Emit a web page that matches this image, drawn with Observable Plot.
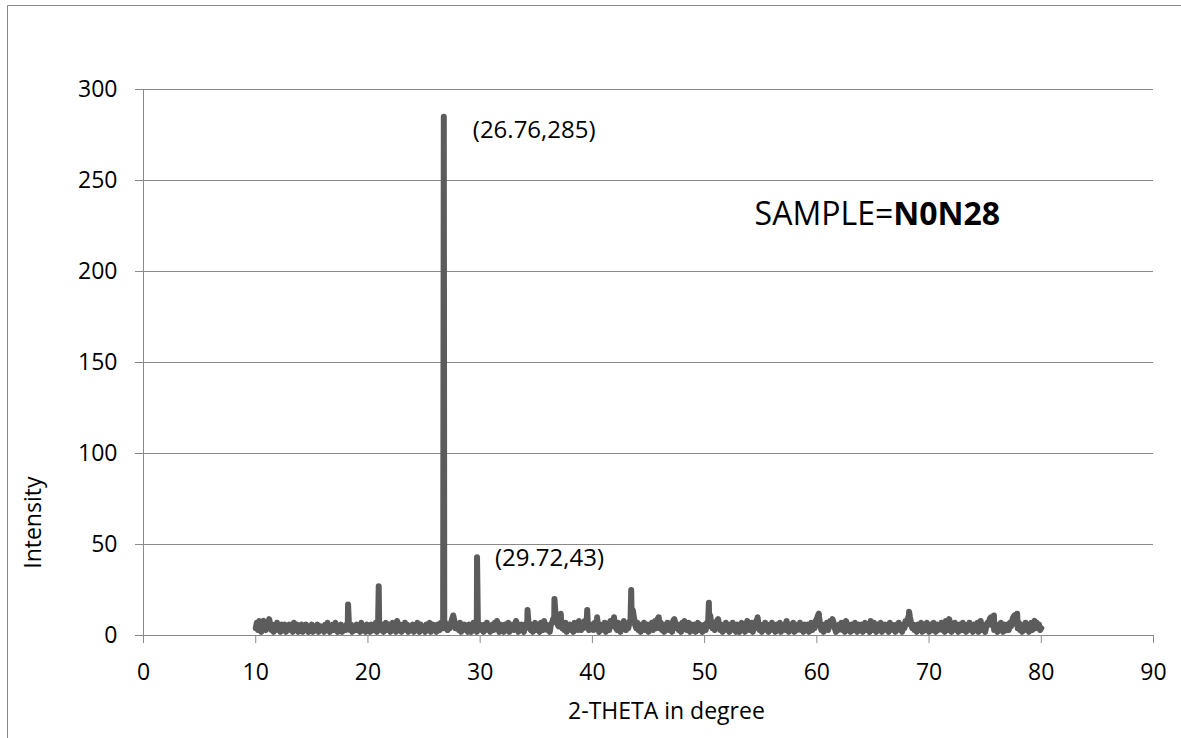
<!DOCTYPE html>
<html>
<head>
<meta charset="utf-8">
<script src="https://cdn.jsdelivr.net/npm/d3@7"></script>
<script src="https://cdn.jsdelivr.net/npm/@observablehq/plot@0.6"></script>
<style>
  body { margin: 0; background: #fff; }
  #chart svg { display: block; }
</style>
</head>
<body>
<div id="chart"></div>
<script>
// ---- Tick labels ----
const xTicks = [0, 10, 20, 30, 40, 50, 60, 70, 80, 90];
const yTicks = [0, 50, 100, 150, 200, 250, 300];

// ---- Baseline intensity, 0.1 degree steps ----
const i10 = [4,7,3,8,5,2,6,8,4,3, 7,5,9,6,3,5,2,6,4,7, 3,5,2,6,4,3,6,2,5,4, 6,3,5,2,7,4,3,6,2,5,
             4,6,2,5,3,6,4,2,5,3, 6,2,5,4,3,6,2,4,5,3, 5,2,6,3,7,4,2,5,3,6, 3,7,4,2,5,3,6,2,4,5,
             3,6,5,7,3,6,2,5,4,3, 6,3,5,2,7,4,3,5,2,6];
const i20 = [3,5,2,6,4,3,5,7,2,5, 6,4,3,6,2,5,7,3,4,6, 2,5,7,3,6,2,8,4,3,6, 2,5,4,7,3,6,2,5,4,3,
             6,2,5,3,7,4,2,6,3,5, 4,2,6,3,5,7,2,4,6,3, 5,2,6,4,3,7,5,6,4,7, 5,3,6,4,7,9,11,8,4,6,
             6,3,7,2,5,4,6,3,5,2, 6,4,2,5,7,3,6,2,5,4];
const i30 = [6,3,5,2,6,4,7,3,5,2, 4,6,3,7,5,8,4,2,6,3, 5,2,6,4,3,7,2,5,4,6, 3,5,8,6,2,5,3,6,4,2,
             6,5,8,7,4,3,6,2,5,7, 3,6,4,2,7,5,3,8,4,6, 3,5,2,6,7,9,10,13,9,6, 5,8,9,4,6,3,7,2,5,4,
             6,3,5,2,7,4,6,3,8,5, 3,6,4,8,7,9,5,3,6,4];
const i40 = [6,3,7,5,9,4,2,6,3,5, 4,7,2,5,6,3,8,5,7,9, 6,4,3,7,5,2,6,4,8,5, 3,6,4,7,9,8,14,10,6,4,
             7,3,5,2,6,4,7,3,5,6, 2,6,4,7,3,5,8,4,9,6, 4,7,3,5,2,6,4,7,3,5, 6,2,8,9,7,4,6,3,5,2,
             7,4,8,6,3,5,7,2,6,4, 3,6,2,5,7,3,6,4,2,5];
const i50 = [6,3,7,5,9,11,6,4,7,3, 5,8,9,6,3,5,2,6,4,7, 3,5,2,6,4,7,3,5,2,6, 4,2,5,7,3,6,2,5,8,6,
             3,5,7,2,6,4,8,9,6,3, 5,2,6,4,7,3,5,2,6,4, 7,3,5,2,6,4,3,7,2,5, 4,6,3,8,5,2,6,4,3,7,
             2,5,3,6,4,7,3,5,2,6, 4,3,6,2,5,7,3,6,4,8];
const i60 = [9,11,10,6,3,5,2,6,4,7, 3,5,8,6,9,7,4,2,5,3, 6,4,7,3,5,2,8,6,3,5, 2,6,4,3,7,5,2,6,4,3,
             6,2,5,7,3,6,4,2,8,5, 3,7,4,2,6,3,5,7,2,5, 4,6,3,5,2,7,4,6,3,5, 2,6,4,7,3,5,2,6,4,8,
             6,9,11,10,7,4,6,3,5,2, 6,3,5,7,2,6,4,3,7,5];
const i70 = [2,6,4,3,7,5,2,6,3,5, 4,7,3,5,2,8,6,3,9,5, 2,6,4,7,3,5,2,6,4,3, 7,3,5,2,6,4,7,3,5,2,
             6,4,3,7,2,5,8,3,6,4, 2,5,7,6,9,10,8,5,3,6, 4,2,6,3,7,5,2,6,4,3, 6,3,7,5,8,10,11,9,6,4,
             7,3,6,2,5,4,7,3,6,2, 5,7,3,6,8,4,7,5,6,3, 4];

// ---- Sharp peaks (2-theta, intensity) ----
const peakX = [18.23, 20.96, 26.76, 29.72, 34.22, 36.62, 37.18, 39.54, 40.42, 41.93, 43.46, 45.91, 50.38, 54.72, 60.18, 68.22, 75.78, 77.85];
const peakY = [17,    27,    285,   43,    14,    20,    12,    14,    10,    10,    25,    10,    18,    10,    12,    13,    11,    12];

// ---- Annotations ----
const labelX = [26.76, 29.72];
const labelY = [285, 43];
const sampleText = "SAMPLE=";
const sampleName = "N0N28";
const xTitle = "2-THETA in degree";
const yTitle = "Intensity";

// Build the series
const decades = [[10, i10], [20, i20], [30, i30], [40, i40], [50, i50], [60, i60], [70, i70]];
const data = [];
for (const [x0, arr] of decades) arr.forEach((v, i) => data.push({x: +(x0 + i * 0.1).toFixed(2), y: v}));
peakX.forEach((x, i) => data.push({x, y: peakY[i]}));
data.sort((a, b) => a.x - b.x);

const ann = labelX.map((x, i) => ({x, y: labelY[i], t: `(${x},${labelY[i]})`}));

const grey = "#898989";
const font = "'Open Sans', sans-serif";

const plot = Plot.plot({
  width: 1181,
  height: 738,
  marginLeft: 143,
  marginRight: 28,
  marginTop: 89,
  marginBottom: 103,
  x: {domain: [0, 90]},
  y: {domain: [0, 300]},
  style: {fontFamily: font, fontSize: "23px", color: "black", background: "white", overflow: "visible"},
  marks: [
    Plot.ruleY(yTicks.slice(1), {stroke: grey, strokeWidth: 1}),
    Plot.ruleX([0], {stroke: grey, strokeWidth: 1}),
    Plot.ruleY([0], {stroke: grey, strokeWidth: 1}),
    Plot.axisY({ticks: yTicks, tickSize: 8, tickPadding: 18, stroke: grey, fill: "black", label: null, fontSize: 23, tickFormat: d => String(d)}),
    Plot.axisX({ticks: xTicks, tickSize: 8, tickPadding: 20, stroke: grey, fill: "black", label: null, fontSize: 23, tickFormat: d => String(d)}),
    Plot.line(data, {x: "x", y: "y", stroke: "#5c5c5c", strokeWidth: 6, strokeLinejoin: "round", strokeLinecap: "round"}),
    Plot.text([ann[0]], {x: "x", y: "y", text: "t", textAnchor: "start", dx: 29, dy: 14, fontSize: 24, fill: "black"}),
    Plot.text([ann[1]], {x: "x", y: "y", text: "t", textAnchor: "start", dx: 18, dy: 1, fontSize: 24, fill: "black"}),
    // axis titles placed in data coordinates (outside the frame)
    Plot.text([yTitle], {text: d => d, x: () => -9.8, y: () => 62, rotate: -90, lineAnchor: "middle", fontSize: 23, fill: "black", clip: false}),
    Plot.text([xTitle], {text: d => d, x: () => 46.6, y: () => -41.8, lineAnchor: "middle", fontSize: 23, fill: "black", clip: false})
  ]
});

// Sample label with bold name, positioned through the plot's scales
const sx = plot.scale("x"), sy = plot.scale("y");
const svg = d3.select(plot);
const t = svg.append("text")
  .attr("x", sx.apply(54.5))
  .attr("y", sy.apply(231.5))
  .attr("dy", "0.35em")
  .attr("text-anchor", "start")
  .attr("font-family", font)
  .attr("font-size", 32)
  .attr("fill", "black");
t.append("tspan").text(sampleText);
t.append("tspan").attr("font-weight", "bold").text(sampleName);

// Chart border (decoration)
svg.append("path")
  .attr("d", "M7.5,738 V5.5 H1181")
  .attr("fill", "none")
  .attr("stroke", grey)
  .attr("stroke-width", 1);

document.getElementById("chart").appendChild(plot);
</script>
</body>
</html>
